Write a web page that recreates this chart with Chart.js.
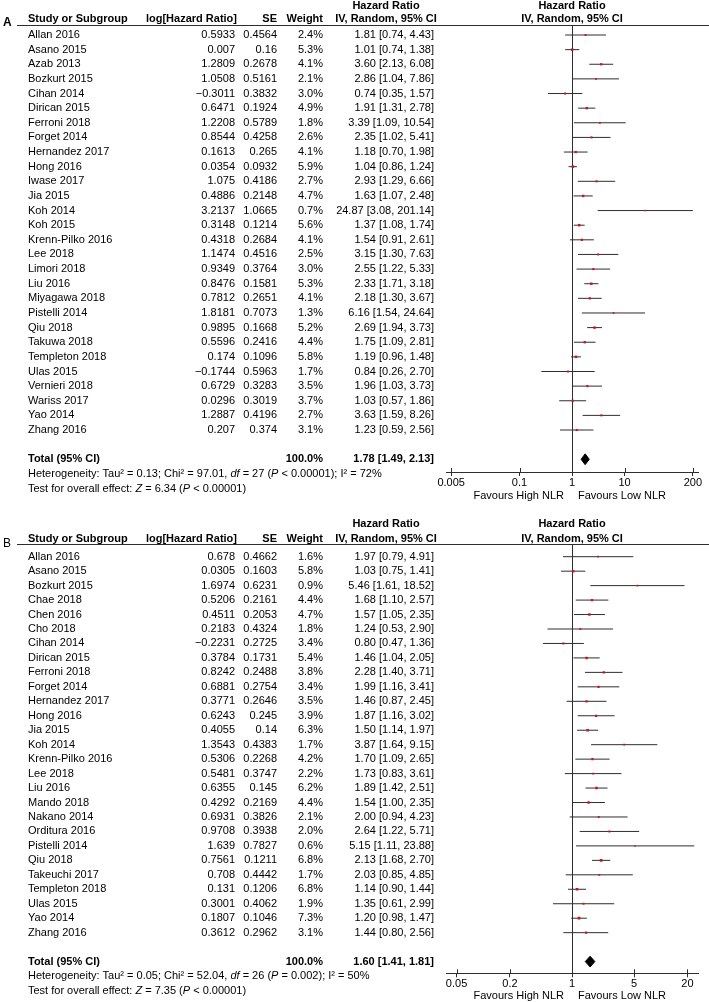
<!DOCTYPE html>
<html><head><meta charset="utf-8">
<script src="https://cdn.jsdelivr.net/npm/chart.js@4.4.1/dist/chart.umd.min.js"></script>
<style>
html,body{margin:0;padding:0;background:#fff;width:709px;height:1002px;overflow:hidden;}
canvas{display:block;}
#wrapA{position:absolute;left:0;top:0;width:709px;height:502px;}
#wrapB{position:absolute;left:0;top:502px;width:709px;height:500px;}
</style></head><body>
<div id="wrapA"><canvas id="cA" width="709" height="502"></canvas></div>
<div id="wrapB"><canvas id="cB" width="709" height="500"></canvas></div>
<script>
// ---------------- Panel A data ----------------
const studiesA = ["Allan 2016","Asano 2015","Azab 2013","Bozkurt 2015","Cihan 2014","Dirican 2015","Ferroni 2018","Forget 2014","Hernandez 2017","Hong 2016","Iwase 2017","Jia 2015","Koh 2014","Koh 2015","Krenn-Pilko 2016","Lee 2018","Limori 2018","Liu 2016","Miyagawa 2018","Pistelli 2014","Qiu 2018","Takuwa 2018","Templeton 2018","Ulas 2015","Vernieri 2018","Wariss 2017","Yao 2014","Zhang 2016"];
const logHRA = ["0.5933","0.007","1.2809","1.0508","−0.3011","0.6471","1.2208","0.8544","0.1613","0.0354","1.075","0.4886","3.2137","0.3148","0.4318","1.1474","0.9349","0.8476","0.7812","1.8181","0.9895","0.5596","0.174","−0.1744","0.6729","0.0296","1.2887","0.207"];
const seA = ["0.4564","0.16","0.2678","0.5161","0.3832","0.1924","0.5789","0.4258","0.265","0.0932","0.4186","0.2148","1.0665","0.1214","0.2684","0.4516","0.3764","0.1581","0.2651","0.7073","0.1668","0.2416","0.1096","0.5963","0.3283","0.3019","0.4196","0.374"];
const weightA = [2.4,5.3,4.1,2.1,3.0,4.9,1.8,2.6,4.1,5.9,2.7,4.7,0.7,5.6,4.1,2.5,3.0,5.3,4.1,1.3,5.2,4.4,5.8,1.7,3.5,3.7,2.7,3.1];
const hrA = [1.81,1.01,3.60,2.86,0.74,1.91,3.39,2.35,1.18,1.04,2.93,1.63,24.87,1.37,1.54,3.15,2.55,2.33,2.18,6.16,2.69,1.75,1.19,0.84,1.96,1.03,3.63,1.23];
const lowA = [0.74,0.74,2.13,1.04,0.35,1.31,1.09,1.02,0.70,0.86,1.29,1.07,3.08,1.08,0.91,1.30,1.22,1.71,1.30,1.54,1.94,1.09,0.96,0.26,1.03,0.57,1.59,0.59];
const highA = [4.43,1.38,6.08,7.86,1.57,2.78,10.54,5.41,1.98,1.24,6.66,2.48,201.14,1.74,2.61,7.63,5.33,3.18,3.67,24.64,3.73,2.81,1.48,2.70,3.73,1.86,8.26,2.56];
const totalA = [1.78, 1.49, 2.13];
const hetA = [["Heterogeneity: Tau² = 0.13; Chi² = 97.01, ",""],["df","i"],[" = 27 (",""],["P","i"],[" < 0.00001); I² = 72%",""]];
const testA = [["Test for overall effect: ",""],["Z","i"],[" = 6.34 (",""],["P","i"],[" < 0.00001)",""]];
const tickValsA = [0.005, 0.1, 1, 10, 200];
const tickLabelsA = ["0.005","0.1","1","10","200"];

// ---------------- Panel B data ----------------
const studiesB = ["Allan 2016","Asano 2015","Bozkurt 2015","Chae 2018","Chen 2016","Cho 2018","Cihan 2014","Dirican 2015","Ferroni 2018","Forget 2014","Hernandez 2017","Hong 2016","Jia 2015","Koh 2014","Krenn-Pilko 2016","Lee 2018","Liu 2016","Mando 2018","Nakano 2014","Orditura 2016","Pistelli 2014","Qiu 2018","Takeuchi 2017","Templeton 2018","Ulas 2015","Yao 2014","Zhang 2016"];
const logHRB = ["0.678","0.0305","1.6974","0.5206","0.4511","0.2183","−0.2231","0.3784","0.8242","0.6881","0.3771","0.6243","0.4055","1.3543","0.5306","0.5481","0.6355","0.4292","0.6931","0.9708","1.639","0.7561","0.708","0.131","0.3001","0.1807","0.3612"];
const seB = ["0.4662","0.1603","0.6231","0.2161","0.2053","0.4324","0.2725","0.1731","0.2488","0.2754","0.2646","0.245","0.14","0.4383","0.2268","0.3747","0.145","0.2169","0.3826","0.3938","0.7827","0.1211","0.4442","0.1206","0.4062","0.1046","0.2962"];
const weightB = [1.6,5.8,0.9,4.4,4.7,1.8,3.4,5.4,3.8,3.4,3.5,3.9,6.3,1.7,4.2,2.2,6.2,4.4,2.1,2.0,0.6,6.8,1.7,6.8,1.9,7.3,3.1];
const hrB = [1.97,1.03,5.46,1.68,1.57,1.24,0.80,1.46,2.28,1.99,1.46,1.87,1.50,3.87,1.70,1.73,1.89,1.54,2.00,2.64,5.15,2.13,2.03,1.14,1.35,1.20,1.44];
const lowB = [0.79,0.75,1.61,1.10,1.05,0.53,0.47,1.04,1.40,1.16,0.87,1.16,1.14,1.64,1.09,0.83,1.42,1.00,0.94,1.22,1.11,1.68,0.85,0.90,0.61,0.98,0.80];
const highB = [4.91,1.41,18.52,2.57,2.35,2.90,1.36,2.05,3.71,3.41,2.45,3.02,1.97,9.15,2.65,3.61,2.51,2.35,4.23,5.71,23.88,2.70,4.85,1.44,2.99,1.47,2.56];
const totalB = [1.60, 1.41, 1.81];
const hetB = [["Heterogeneity: Tau² = 0.05; Chi² = 52.04, ",""],["df","i"],[" = 26 (",""],["P","i"],[" = 0.002); I² = 50%",""]];
const testB = [["Test for overall effect: ",""],["Z","i"],[" = 7.35 (",""],["P","i"],[" < 0.00001)",""]];
const tickValsB = [0.05, 0.2, 1, 5, 20];
const tickLabelsB = ["0.05","0.2","1","5","20"];

// ---------------- rendering ----------------
const FAM = '"Liberation Sans", Arial, Helvetica, sans-serif';
const INK = '#000';
const LINE = '#2e2e2e';
const MARK = '#c8161d';

function font(weight, style, size) {
  return `${style || 'normal'} ${weight || 'normal'} ${size || 11}px ${FAM}`;
}
function drawRich(ctx, x, y, segs, bold) {
  let cx = x;
  for (const [t, s] of segs) {
    ctx.font = font(bold ? 'bold' : 'normal', s === 'i' ? 'italic' : 'normal');
    ctx.textAlign = 'left';
    ctx.fillText(t, cx, y);
    cx += ctx.measureText(t).width;
  }
}

function buildPanel(canvasId, P) {
  const n = P.studies.length;
  const totalRow = n + 1;
  const yMin = (P.lineY - P.row0) / P.rowH;
  const yMax = (P.axisY - P.row0) / P.rowH;
  const H = P.H;
  const axisH = 24;

  const datasets = [];
  // confidence interval segments, one per study
  for (let i = 0; i < n; i++) {
    datasets.push({
      type: 'scatter', showLine: true,
      data: [{x: P.low[i], y: i}, {x: P.high[i], y: i}],
      borderColor: LINE, borderWidth: 1, pointRadius: 0, order: 3
    });
  }
  // point estimates
  const rad = P.weight.map(w => 0.7 + Math.sqrt(w) * 0.45);
  datasets.push({
    type: 'scatter',
    data: P.hr.map((v, i) => ({x: v, y: i})),
    pointStyle: 'rect',
    pointRadius: rad, pointHoverRadius: rad,
    backgroundColor: MARK, borderWidth: 0, order: 1
  });
  // pooled diamond
  const dh = 0.37;
  datasets.push({
    type: 'scatter', showLine: true,
    data: [
      {x: P.total[1], y: totalRow}, {x: P.total[0], y: totalRow - dh},
      {x: P.total[2], y: totalRow}, {x: P.total[0], y: totalRow + dh},
      {x: P.total[1], y: totalRow}
    ],
    borderColor: '#000', backgroundColor: '#000', borderWidth: 1,
    pointRadius: 0, fill: 'shape', tension: 0, order: 2
  });

  const tablePlugin = {
    id: 'table' + canvasId,
    beforeDatasetsDraw(chart) {
      const ctx = chart.ctx, ca = chart.chartArea, xs = chart.scales.x;
      ctx.save();
      ctx.strokeStyle = LINE; ctx.lineWidth = 1;
      // header rule
      ctx.beginPath();
      ctx.moveTo(P.ruleX0, ca.top + 0.5); ctx.lineTo(chart.width, ca.top + 0.5);
      ctx.stroke();
      // line of no effect
      const x1 = Math.round(xs.getPixelForValue(1)) + 0.5;
      ctx.beginPath();
      ctx.moveTo(x1, ca.top); ctx.lineTo(x1, ca.bottom);
      ctx.stroke();
      // upward half of the axis ticks
      for (const v of P.tickVals) {
        const tx = Math.round(xs.getPixelForValue(v)) + 0.5;
        ctx.beginPath();
        ctx.moveTo(tx, ca.bottom - 4); ctx.lineTo(tx, ca.bottom);
        ctx.stroke();
      }
      ctx.restore();
    },
    afterDraw(chart) {
      const ctx = chart.ctx, ys = chart.scales.y, xs = chart.scales.x;
      ctx.save();
      ctx.fillStyle = INK;
      ctx.textBaseline = 'middle';
      // panel letter
      ctx.font = font(P.letterBold ? 'bold' : 'normal', 'normal', 12);
      ctx.textAlign = 'left';
      ctx.fillText(P.letter, 3, P.hdr2 + 4);
      // headers
      ctx.font = font('bold');
      ctx.textAlign = 'left';
      ctx.fillText('Study or Subgroup', P.colName, P.hdr2);
      ctx.textAlign = 'right';
      ctx.fillText('log[Hazard Ratio]', P.colLog + 2, P.hdr2);
      ctx.fillText('SE', P.colSE, P.hdr2);
      ctx.fillText('Weight', P.colW, P.hdr2);
      ctx.textAlign = 'center';
      ctx.fillText('Hazard Ratio', P.colCIc, P.hdr1);
      ctx.fillText('IV, Random, 95% CI', P.colCIc, P.hdr2);
      const xc = xs.getPixelForValue(1);
      ctx.fillText('Hazard Ratio', xc, P.hdr1);
      ctx.fillText('IV, Random, 95% CI', xc, P.hdr2);
      // rows
      ctx.font = font();
      for (let i = 0; i < n; i++) {
        const y = ys.getPixelForValue(i);
        ctx.textAlign = 'left';
        ctx.fillText(P.studies[i], P.colName, y);
        ctx.textAlign = 'right';
        ctx.fillText(P.logHR[i], P.colLog, y);
        ctx.fillText(P.se[i], P.colSE, y);
        ctx.fillText(P.weight[i].toFixed(1) + '%', P.colW, y);
        ctx.fillText(`${P.hr[i].toFixed(2)} [${P.low[i].toFixed(2)}, ${P.high[i].toFixed(2)}]`, P.colCI, y);
      }
      // total
      const yt = ys.getPixelForValue(totalRow);
      ctx.font = font('bold');
      ctx.textAlign = 'left';
      ctx.fillText('Total (95% CI)', P.colName, yt);
      ctx.textAlign = 'right';
      ctx.fillText('100.0%', P.colW, yt);
      ctx.fillText(`${P.total[0].toFixed(2)} [${P.total[1].toFixed(2)}, ${P.total[2].toFixed(2)}]`, P.colCI, yt);
      drawRich(ctx, P.colName, ys.getPixelForValue(totalRow + 1), P.het);
      drawRich(ctx, P.colName, ys.getPixelForValue(totalRow + 2), P.test);
      // favours labels
      ctx.font = font();
      ctx.textAlign = 'right';
      ctx.fillText('Favours High NLR', xc - 8, P.favY);
      ctx.textAlign = 'left';
      ctx.fillText('Favours Low NLR', xc + 6, P.favY);
      ctx.restore();
    }
  };

  return new Chart(document.getElementById(canvasId), {
    type: 'scatter',
    data: { datasets },
    options: {
      responsive: false, animation: false,
      events: [],
      layout: { padding: { left: P.axisX0, right: 709 - P.axisX1, top: P.lineY, bottom: H - P.axisY - axisH } },
      plugins: { legend: { display: false }, tooltip: { enabled: false } },
      scales: {
        x: {
          type: 'logarithmic', position: 'bottom',
          min: P.xMin, max: P.xMax,
          afterBuildTicks: s => { s.ticks = P.tickVals.map(v => ({ value: v })); },
          afterFit: s => { s.height = axisH; },
          ticks: {
            autoSkip: false, maxRotation: 0, padding: 0, color: INK,
            font: { family: FAM, size: 11 },
            callback: v => { const k = P.tickVals.indexOf(v); return k >= 0 ? P.tickLabels[k] : ''; }
          },
          grid: { drawOnChartArea: false, drawTicks: true, tickLength: 4, color: LINE, lineWidth: 1 },
          border: { display: true, color: LINE, width: 1 }
        },
        y: {
          type: 'linear', display: false, reverse: true, min: yMin, max: yMax
        }
      }
    },
    plugins: [tablePlugin]
  });
}

const common = { colName: 28, colLog: 235, colSE: 277, colW: 323, colCI: 434, colCIc: 386, ruleX0: 17, axisX0: 446, axisX1: 698 };

buildPanel('cA', Object.assign({}, common, {
  H: 502, letter: 'A', letterBold: true,
  studies: studiesA, logHR: logHRA, se: seA, weight: weightA, hr: hrA, low: lowA, high: highA,
  total: totalA, het: hetA, test: testA, tickVals: tickValsA, tickLabels: tickLabelsA,
  xMin: 0.00398, xMax: 251,
  hdr1: 5.5, hdr2: 19, lineY: 25, row0: 35, rowH: 14.63, axisY: 472, favY: 495.5
}));

buildPanel('cB', Object.assign({}, common, {
  H: 500, letter: 'B', letterBold: false,
  studies: studiesB, logHR: logHRB, se: seB, weight: weightB, hr: hrB, low: lowB, high: highB,
  total: totalB, het: hetB, test: testB, tickVals: tickValsB, tickLabels: tickLabelsB,
  xMin: 0.038, xMax: 26.3,
  hdr1: 21.5, hdr2: 37.3, lineY: 42, row0: 54.7, rowH: 14.46, axisY: 471.3, favY: 493.7
}));
</script>
</body></html>
